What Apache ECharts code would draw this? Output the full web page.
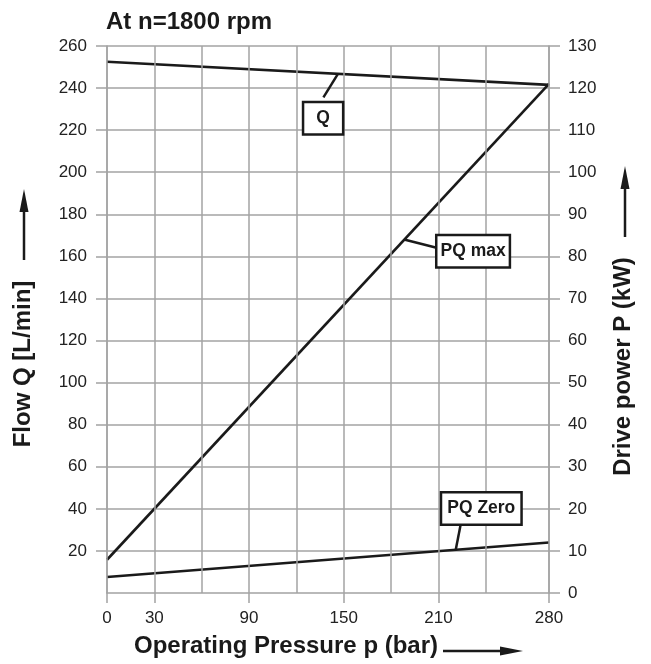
<!DOCTYPE html>
<html>
<head>
<meta charset="utf-8">
<script src="https://cdn.jsdelivr.net/npm/echarts@6/dist/echarts.min.js"></script>
<style>
html,body{margin:0;padding:0;background:#fff;}
#chart{width:651px;height:664px;}
</style>
</head>
<body>
<div id="chart"></div>
<script>
// ---- data ----
const pressure = [0, 280];              // bar
const flowQ = [252.5, 241.5];           // L/min (left axis)
const powerPQmax = [7.9, 121];          // kW (right axis)
const powerPQzero = [3.8, 12];          // kW (right axis)
const xGridValues = [0, 30, 60, 90, 120, 150, 180, 210, 240, 280];
const xLabelValues = [0, 30, 90, 150, 210, 280];
const leftLabelValues = [20, 40, 60, 80, 100, 120, 140, 160, 180, 200, 220, 240, 260];
const rightLabelValues = [0, 10, 20, 30, 40, 50, 60, 70, 80, 90, 100, 110, 120, 130];
// annotation anchors in data units of each series' own axis
const annQ = { text: 'Q', box: [136.9, 225.6], leader: [[137.1, 235.6], [146.2, 246.6]] };
const annMax = { text: 'PQ max', box: [231.9, 81.25], leader: [[209.4, 82.0], [188.2, 84.0]] };
const annZero = { text: 'PQ Zero', box: [237.1, 20.1], leader: [[224.1, 16.4], [220.9, 10.2]] };

const FONT = "'Liberation Sans', Arial, Helvetica, sans-serif";
const INK = '#1a1a1a';
const GRID = '#a3a3a3';

function pairs(xs, ys) { return xs.map((x, i) => [x, ys[i]]); }

function annotate(a, pad) {
  return {
    markLine: {
      silent: true, animation: false, symbol: ['none', 'none'],
      label: { show: false },
      lineStyle: { color: INK, width: 2.5, type: 'solid' },
      emphasis: { disabled: true },
      data: [[{ coord: a.leader[0] }, { coord: a.leader[1] }]]
    },
    markPoint: {
      silent: true, animation: false,
      symbol: 'circle', symbolSize: 1,
      itemStyle: { color: 'rgba(0,0,0,0)' },
      label: {
        show: true, position: 'inside', formatter: a.text,
        fontFamily: FONT, fontWeight: 'bold', fontSize: 17.5, color: INK,
        backgroundColor: '#fff', borderColor: INK, borderWidth: 2.5,
        padding: pad, lineHeight: 20
      },
      data: [{ coord: a.box }]
    }
  };
}

const chart = echarts.init(document.getElementById('chart'), null, { renderer: 'canvas' });

const lineStyle = { color: INK, width: 2.6 };

const option = {
  animation: false,
  backgroundColor: '#fff',
  title: {
    text: 'At n=1800 rpm', left: 101, top: 5,
    textStyle: { fontFamily: FONT, fontWeight: 'bold', fontSize: 24, color: INK }
  },
  grid: { left: 107, right: 102, top: 46, bottom: 71, containLabel: false },
  xAxis: {
    type: 'value', min: 0, max: 280,
    axisLine: { show: true, lineStyle: { color: GRID, width: 1.5 } },
    axisTick: { show: true, customValues: xLabelValues, length: 10, lineStyle: { color: GRID, width: 1.5 } },
    axisLabel: { show: true, customValues: xLabelValues, margin: 17, fontFamily: FONT, fontSize: 17, color: '#222' },
    splitLine: { show: false }
  },
  yAxis: [
    {
      type: 'value', min: 0, max: 260, interval: 10, position: 'left',
      axisLine: { show: true, lineStyle: { color: GRID, width: 1.5 } },
      axisTick: { show: true, customValues: leftLabelValues, length: 11, lineStyle: { color: GRID, width: 1.5 } },
      axisLabel: { show: true, customValues: leftLabelValues, margin: 20, fontFamily: FONT, fontSize: 17, color: '#222' },
      splitLine: { show: true, lineStyle: { color: GRID, width: 1.5 } }
    },
    {
      type: 'value', min: 0, max: 130, interval: 10, position: 'right',
      axisLine: { show: true, lineStyle: { color: GRID, width: 1.5 } },
      axisTick: { show: true, customValues: rightLabelValues, length: 11, lineStyle: { color: GRID, width: 1.5 } },
      axisLabel: { show: true, customValues: rightLabelValues, margin: 19, fontFamily: FONT, fontSize: 17, color: '#222' },
      splitLine: { show: false }
    }
  ],
  series: [
    {
      name: 'grid-x', type: 'line', data: [], z: 1, silent: true,
      markLine: {
        silent: true, animation: false, symbol: ['none', 'none'], label: { show: false },
        lineStyle: { color: GRID, width: 1.5, type: 'solid' },
        emphasis: { disabled: true },
        data: xGridValues.map(v => ({ xAxis: v }))
      }
    },
    Object.assign({
      name: 'Q', type: 'line', yAxisIndex: 0, data: pairs(pressure, flowQ),
      symbol: 'none', lineStyle: lineStyle, z: 3, silent: true
    }, annotate(annQ, [5, 12, 5, 12])),
    Object.assign({
      name: 'PQ max', type: 'line', yAxisIndex: 1, data: pairs(pressure, powerPQmax),
      symbol: 'none', lineStyle: lineStyle, z: 3, silent: true
    }, annotate(annMax, [5, 3, 5, 3])),
    Object.assign({
      name: 'PQ Zero', type: 'line', yAxisIndex: 1, data: pairs(pressure, powerPQzero),
      symbol: 'none', lineStyle: lineStyle, z: 3, silent: true
    }, annotate(annZero, [5, 5, 5, 5]))
  ],
  graphic: [
    // left axis title + arrow
    { type: 'text', x: 23.5, y: 364, rotation: Math.PI / 2,
      style: { text: 'Flow Q [L/min]', font: 'bold 24px ' + FONT, fill: INK, textAlign: 'center', textVerticalAlign: 'middle' } },
    { type: 'line', shape: { x1: 24, y1: 260, x2: 24, y2: 205 }, style: { stroke: INK, lineWidth: 2.5 } },
    { type: 'polygon', shape: { points: [[24, 189], [19.5, 212], [28.5, 212]] }, style: { fill: INK } },
    // right axis title + arrow
    { type: 'text', x: 623, y: 366.5, rotation: Math.PI / 2,
      style: { text: 'Drive power P (kW)', font: 'bold 24px ' + FONT, fill: INK, textAlign: 'center', textVerticalAlign: 'middle' } },
    { type: 'line', shape: { x1: 625, y1: 237, x2: 625, y2: 185 }, style: { stroke: INK, lineWidth: 2.5 } },
    { type: 'polygon', shape: { points: [[625, 166], [620.5, 189], [629.5, 189]] }, style: { fill: INK } },
    // bottom axis title + arrow
    { type: 'text', x: 286, y: 646,
      style: { text: 'Operating Pressure p (bar)', font: 'bold 24px ' + FONT, fill: INK, textAlign: 'center', textVerticalAlign: 'middle' } },
    { type: 'line', shape: { x1: 443, y1: 651, x2: 505, y2: 651 }, style: { stroke: INK, lineWidth: 2.5 } },
    { type: 'polygon', shape: { points: [[523, 651], [500, 646.5], [500, 655.5]] }, style: { fill: INK } }
  ]
};

chart.setOption(option);
</script>
</body>
</html>
